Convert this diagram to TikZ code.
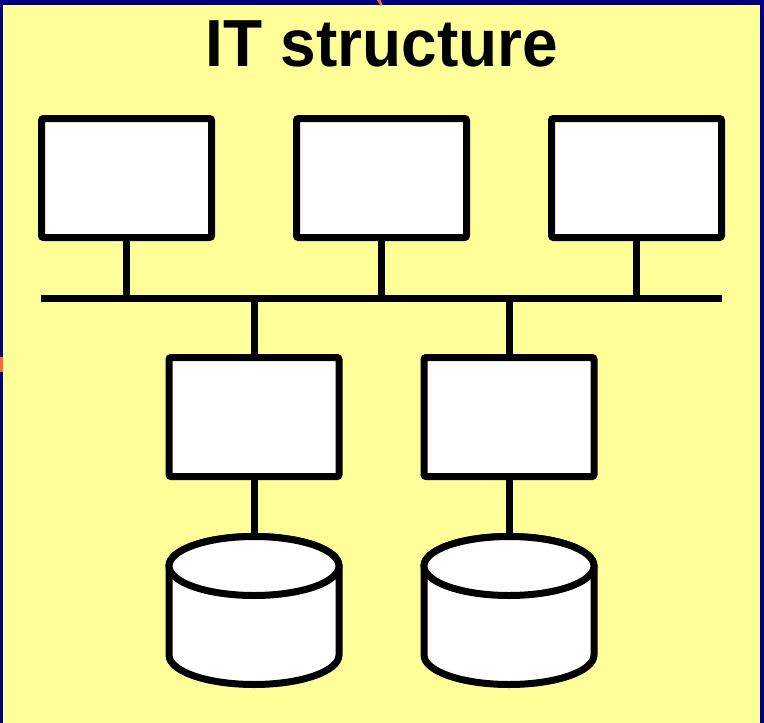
\documentclass[tikz,border=0pt]{standalone}
\usepackage{fontspec}
\setmainfont{Liberation Sans}
\usetikzlibrary{positioning}
\definecolor{slideyellow}{HTML}{FFFF99}
\definecolor{slidenavy}{HTML}{000080}
\definecolor{markorange}{HTML}{FF6633}

\begin{document}
\begin{tikzpicture}[x=1pt, y=1pt]
\tikzset{
pc/.style={draw, fill=white, rectangle, line width=7pt, rounded corners=2pt,
  minimum width=170pt, minimum height=119pt, inner sep=0pt}, % the computers
disk/.style={draw, fill=white, line width=7pt}, % the data stores
wire/.style={line width=7pt}, % the cables
node distance=255pt,
}
	% slide background
	\useasboundingbox (0,0) rectangle (764,-723);
	\fill[slideyellow] (0,0) rectangle (764,-723);
	\fill[slidenavy] (0,0) rectangle (764,-5);
	\fill[slidenavy] (0,0) rectangle (3,-723);
	\fill[slidenavy] (760,0) rectangle (764,-723);
	\fill[markorange] (377,0) -- (380.5,0) -- (382.5,-5) -- (380,-5) -- cycle;
	\fill[markorange] (0,-357) rectangle (3,-372);

	\node[anchor=base, yscale=1.04, font=\fontsize{64}{70}\selectfont\bfseries] (title) at (382,-66) {IT structure};

	\node[pc] (c1) at (126.5,-178) {};
	\node[pc, right of=c1] (c2) {};
	\node[pc, right of=c2] (c3) {};
	\node[pc, below of=c1, node distance=239pt, xshift=127.5pt] (s1) {};
	\node[pc, right of=s1] (s2) {};
	\coordinate[below of=s1, node distance=119.5pt] (d1);
	\coordinate[right of=d1] (d2);

	% cylinders, hung from their top points
	\foreach \n in {1,2} {
		\filldraw[disk] (d\n) ++(-85,-29.5) -- ++(0,-89)
			arc[start angle=180, end angle=360, x radius=85pt, y radius=29.5pt]
			-- ++(0,89)
			arc[start angle=0, end angle=180, x radius=85pt, y radius=29.5pt] -- cycle;
		\draw[disk] (d\n) ++(0,-29.5) ellipse[x radius=85pt, y radius=29.5pt];
	}

	\coordinate (busL) at (41,-298);
	\coordinate (busR) at (722,-298);
	\draw[wire] (busL) -- (busR);
	\foreach \n in {c1,c2,c3}
		\draw[wire] (\n.south) -- (\n.south |- busL);
	\foreach \n in {s1,s2}
		\draw[wire] (\n.north |- busL) -- (\n.north);
	\draw[wire] (s1.south) -- (d1);
	\draw[wire] (s2.south) -- (d2);
\end{tikzpicture}
\end{document}
